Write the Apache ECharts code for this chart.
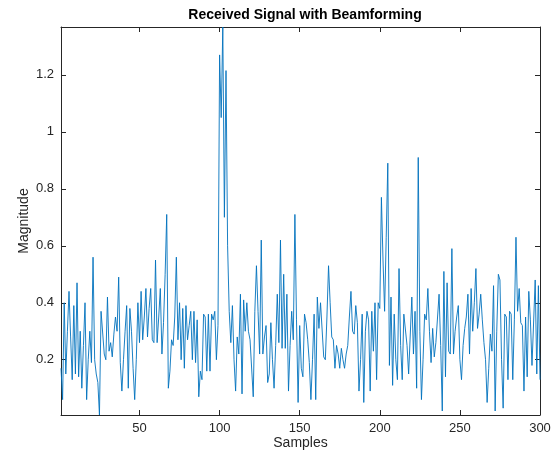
<!DOCTYPE html>
<html>
<head>
<meta charset="utf-8">
<script src="https://cdn.jsdelivr.net/npm/echarts@6/dist/echarts.min.js"></script>
<style>html,body{margin:0;padding:0;background:#fff;}#c{width:558px;height:463px;}</style>
</head>
<body>
<div id="c"></div>
<script>
const titleText = 'Received Signal with Beamforming';
const xName = 'Samples';
const yName = 'Magnitude';
const xTicks = [50, 100, 150, 200, 250, 300];
const yTicks = [0.2, 0.4, 0.6, 0.8, 1.0, 1.2];
const magnitude = [
0.17,0.06,0.40,0.15,0.30,0.44,0.28,0.13,0.39,0.15,
0.47,0.14,0.30,0.10,0.25,0.40,0.06,0.20,0.30,0.19,
0.56,0.20,0.15,0.12,0.006,0.37,0.37,0.22,0.20,0.42,
0.23,0.26,0.21,0.29,0.35,0.30,0.49,0.19,0.09,0.20,
0.30,0.39,0.10,0.38,0.30,0.17,0.06,0.20,0.40,0.26,
0.44,0.27,0.35,0.45,0.28,0.38,0.45,0.27,0.26,0.55,
0.26,0.35,0.45,0.22,0.33,0.50,0.71,0.10,0.16,0.27,
0.25,0.35,0.56,0.27,0.40,0.20,0.38,0.17,0.39,0.27,
0.32,0.37,0.20,0.37,0.19,0.34,0.07,0.16,0.13,0.36,
0.35,0.16,0.36,0.16,0.36,0.34,0.37,0.20,0.32,1.27,
1.05,1.368,0.70,1.215,0.60,0.37,0.26,0.39,0.20,0.09,
0.28,0.22,0.43,0.08,0.41,0.30,0.40,0.30,0.27,0.27,
0.07,0.37,0.53,0.37,0.22,0.62,0.22,0.28,0.32,0.12,
0.15,0.33,0.20,0.10,0.25,0.43,0.26,0.62,0.24,0.50,
0.24,0.43,0.09,0.25,0.37,0.27,0.71,0.34,0.05,0.32,
0.17,0.14,0.36,0.33,0.27,0.19,0.06,0.20,0.36,0.06,
0.42,0.31,0.40,0.40,0.21,0.20,0.35,0.53,0.40,0.28,
0.27,0.17,0.25,0.22,0.17,0.24,0.20,0.17,0.22,0.25,
0.35,0.44,0.30,0.29,0.39,0.33,0.09,0.20,0.36,0.05,
0.30,0.37,0.34,0.09,0.37,0.23,0.40,0.13,0.40,0.38,
0.77,0.55,0.37,0.63,0.89,0.18,0.42,0.11,0.36,0.20,
0.13,0.52,0.25,0.13,0.36,0.36,0.25,0.15,0.15,0.42,
0.22,0.37,0.10,0.91,0.30,0.06,0.20,0.36,0.34,0.45,
0.30,0.19,0.31,0.21,0.26,0.26,0.43,0.25,0.02,0.51,
0.14,0.47,0.23,0.22,0.59,0.22,0.30,0.35,0.39,0.20,
0.13,0.25,0.31,0.35,0.43,0.22,0.45,0.30,0.40,0.52,
0.31,0.36,0.43,0.34,0.26,0.20,0.05,0.17,0.29,0.23,
0.46,0.02,0.30,0.50,0.48,0.20,0.03,0.36,0.35,0.13,
0.37,0.36,0.13,0.34,0.63,0.37,0.45,0.33,0.32,0.09,
0.35,0.14,0.44,0.34,0.18,0.18,0.48,0.15,0.46,0.13
];
const samples = magnitude.map((v, i) => i + 1);

const axisColor = '#262626';
const font = 'Liberation Sans, Arial, Helvetica, sans-serif';
const yMin = Math.min(...magnitude);
const yMax = Math.max(...magnitude);
const xMin = samples[0], xMax = samples[samples.length - 1];

function xAx(pos, showLabels) {
  return {
    type: 'value', position: pos, min: xMin, max: xMax,
    name: showLabels ? xName : '', nameLocation: 'middle', nameGap: 21, nameMoveOverlap: false,
    nameTextStyle: { fontFamily: font, fontSize: 14, color: axisColor },
    axisLine: { show: true, onZero: false, lineStyle: { color: axisColor, width: 1 } },
    axisTick: { show: true, inside: true, length: 5, customValues: xTicks, lineStyle: { color: axisColor } },
    axisLabel: { show: showLabels, customValues: xTicks, fontFamily: font, fontSize: 13, color: axisColor, margin: 7 },
    splitLine: { show: false }
  };
}
function yAx(pos, showLabels) {
  return {
    type: 'value', position: pos, min: yMin, max: yMax,
    name: showLabels ? yName : '', nameLocation: 'middle', nameGap: 30, nameMoveOverlap: false,
    nameTextStyle: { fontFamily: font, fontSize: 14, color: axisColor },
    axisLine: { show: true, onZero: false, lineStyle: { color: axisColor, width: 1 } },
    axisTick: { show: true, inside: true, length: 5, customValues: yTicks, lineStyle: { color: axisColor } },
    axisLabel: { show: showLabels, customValues: yTicks, fontFamily: font, fontSize: 13, color: axisColor, margin: 7,
      formatter: v => String(Math.round(v * 10) / 10) },
    splitLine: { show: false }
  };
}

const chart = echarts.init(document.getElementById('c'), null, { renderer: 'canvas' });
chart.setOption({
  animation: false,
  backgroundColor: '#ffffff',
  title: {
    text: titleText, left: 300, top: 3, textAlign: 'center',
    textStyle: { fontFamily: font, fontSize: 14, fontWeight: 'bold', color: '#000' }
  },
  grid: { left: 61, right: 18, top: 27, bottom: 48, containLabel: false },
  xAxis: [xAx('bottom', true), xAx('top', false)],
  yAxis: [yAx('left', true), yAx('right', false)],
  series: [{
    type: 'line', xAxisIndex: 0, yAxisIndex: 0,
    data: samples.map((s, i) => [s, magnitude[i]]),
    showSymbol: false, symbol: 'none',
    lineStyle: { color: '#0072BD', width: 0.9 },
    clip: true
  }]
});
</script>
</body>
</html>
